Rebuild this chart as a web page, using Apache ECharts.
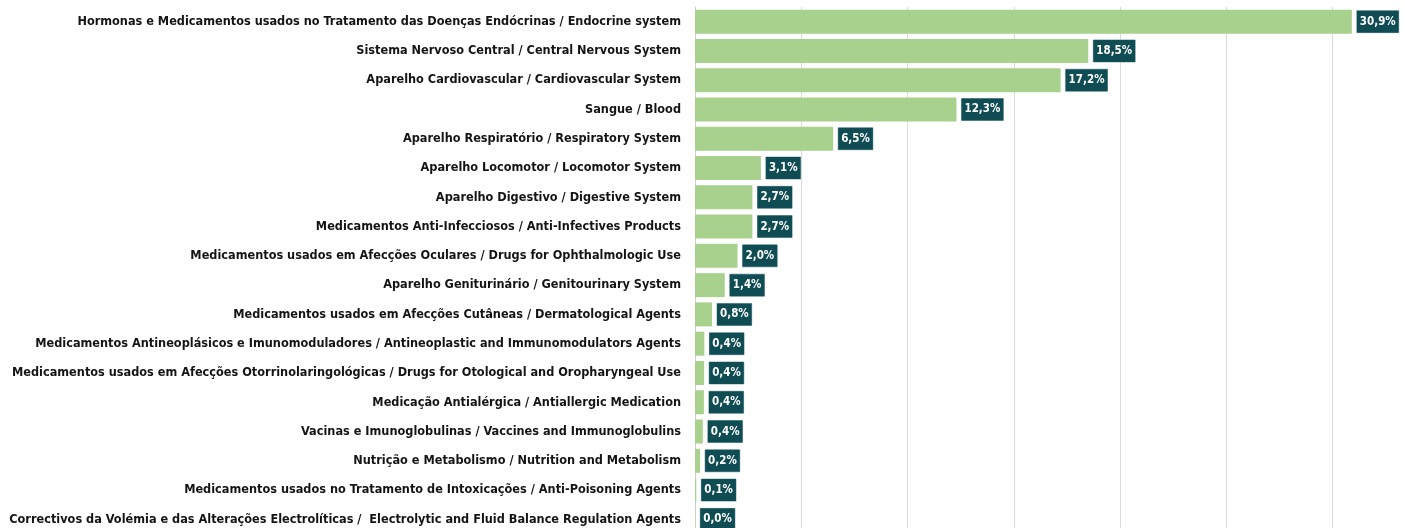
<!DOCTYPE html>
<html>
<head>
<meta charset="utf-8">
<script src="https://cdn.jsdelivr.net/npm/echarts@6/dist/echarts.min.js"></script>
<style>
html,body{margin:0;padding:0;background:#fff;}
#chart{width:1405px;height:528px;}
</style>
</head>
<body>
<div id="chart"></div>
<script>
const categories = [
  "Hormonas e Medicamentos usados no Tratamento das Doenças Endócrinas / Endocrine system",
  "Sistema Nervoso Central / Central Nervous System",
  "Aparelho Cardiovascular / Cardiovascular System",
  "Sangue / Blood",
  "Aparelho Respiratório / Respiratory System",
  "Aparelho Locomotor / Locomotor System",
  "Aparelho Digestivo / Digestive System",
  "Medicamentos Anti-Infecciosos / Anti-Infectives Products",
  "Medicamentos usados em Afecções Oculares / Drugs for Ophthalmologic Use",
  "Aparelho Geniturinário / Genitourinary System",
  "Medicamentos usados em Afecções Cutâneas / Dermatological Agents",
  "Medicamentos Antineoplásicos e Imunomoduladores / Antineoplastic and Immunomodulators Agents",
  "Medicamentos usados em Afecções Otorrinolaringológicas / Drugs for Otological and Oropharyngeal Use",
  "Medicação Antialérgica / Antiallergic Medication",
  "Vacinas e Imunoglobulinas / Vaccines and Immunoglobulins",
  "Nutrição e Metabolismo / Nutrition and Metabolism",
  "Medicamentos usados no Tratamento de Intoxicações / Anti-Poisoning Agents",
  "Correctivos da Volémia e das Alterações Electrolíticas /  Electrolytic and Fluid Balance Regulation Agents"
];
const shares = [30.9, 18.5, 17.2, 12.3, 6.5, 3.1, 2.7, 2.7, 2.0, 1.4, 0.8, 0.44, 0.43, 0.42, 0.37, 0.24, 0.06, 0.01];

const FONT = "'DejaVu Sans Condensed', 'Liberation Sans', sans-serif";

const chart = echarts.init(document.getElementById('chart'));
chart.setOption({
  animation: false,
  backgroundColor: '#ffffff',
  grid: { left: 695, top: 7, width: 744, height: 527, containLabel: false, outerBoundsMode: 'none' },
  xAxis: {
    type: 'value', min: 0, max: 35, interval: 5,
    axisLabel: { show: false },
    axisLine: { show: false },
    axisTick: { show: false },
    splitLine: { show: true, lineStyle: { color: '#d9d9d9', width: 1 } }
  },
  yAxis: {
    type: 'category',
    data: categories,
    inverse: true,
    axisLine: { show: true, lineStyle: { color: '#d0d0d0', width: 1 } },
    axisTick: { show: false },
    axisLabel: {
      margin: 14,
      color: '#141414',
      fontFamily: FONT,
      fontWeight: 'bold',
      fontSize: 12.6
    }
  },
  series: [{
    type: 'bar',
    data: shares,
    barCategoryGap: '18%',
    itemStyle: { color: '#a9d18e' },
    label: {
      show: true,
      position: 'right',
      distance: 5,
      formatter: p => p.value.toFixed(1).replace('.', ',') + '%',
      color: '#ffffff',
      fontFamily: FONT,
      fontWeight: 'bold',
      fontSize: 11.5,
      backgroundColor: '#0f4c54',
      borderColor: '#8fb0b2',
      borderWidth: 0.5,
      padding: [5, 3, 5, 3]
    }
  }]
});
</script>
</body>
</html>
